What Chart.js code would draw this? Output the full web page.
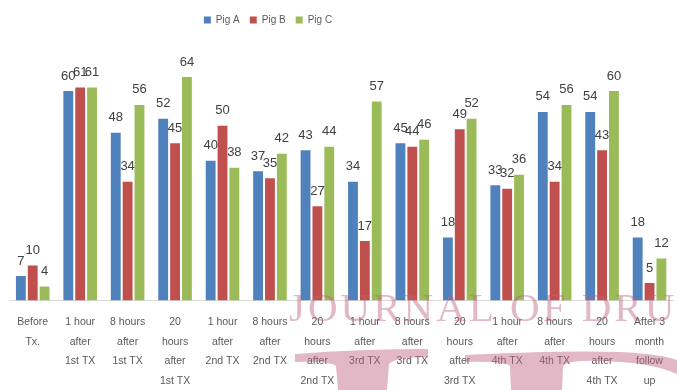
<!DOCTYPE html>
<html>
<head>
<meta charset="utf-8">
<script src="https://cdn.jsdelivr.net/npm/chart.js@4/dist/chart.umd.min.js"></script>
<style>
  html, body { margin: 0; padding: 0; background: #ffffff; }
  #wrap { width: 677px; height: 390px; position: relative; }
</style>
</head>
<body>
<div id="wrap"><canvas id="chart"></canvas></div>
<script>
// Time points of the treatment course (multi-line axis labels)
const categories = [
  ['Before', 'Tx.'],
  ['1 hour', 'after', '1st TX'],
  ['8 hours', 'after', '1st TX'],
  ['20', 'hours', 'after', '1st TX'],
  ['1 hour', 'after', '2nd TX'],
  ['8 hours', 'after', '2nd TX'],
  ['20', 'hours', 'after', '2nd TX'],
  ['1 hour', 'after', '3rd TX'],
  ['8 hours', 'after', '3rd TX'],
  ['20', 'hours', 'after', '3rd TX'],
  ['1 hour', 'after', '4th TX'],
  ['8 hours', 'after', '4th TX'],
  ['20', 'hours', 'after', '4th TX'],
  ['After 3', 'month', 'follow', 'up']
];

// Measured values per animal
const pigA = [7, 60, 48, 52, 40, 37, 43, 34, 45, 18, 33, 54, 54, 18];
const pigB = [10, 61, 34, 45, 50, 35, 27, 17, 44, 49, 32, 34, 43, 5];
const pigC = [4, 61, 56, 64, 38, 42, 44, 57, 46, 52, 36, 56, 60, 12];

const seriesNames = ['Pig A', 'Pig B', 'Pig C'];
const yMax = 70;

const FONT = "'Liberation Sans', Arial, sans-serif";

// Value labels above every bar
const valueLabels = {
  id: 'valueLabels',
  afterDatasetsDraw(chart) {
    const ctx = chart.ctx;
    ctx.save();
    ctx.font = '13px ' + FONT;
    ctx.fillStyle = '#404040';
    ctx.textAlign = 'center';
    ctx.textBaseline = 'middle';
    chart.data.datasets.forEach((ds, i) => {
      const meta = chart.getDatasetMeta(i);
      meta.data.forEach((bar, j) => {
        ctx.fillText(String(ds.data[j]), bar.x, bar.y - 15);
      });
    });
    ctx.restore();
  }
};

// Place the legend slightly left of centre near the top edge
const legendPlacement = {
  id: 'legendPlacement',
  afterLayout(chart) {
    const lg = chart.legend;
    if (!lg) return;
    const dx = 268 - (lg.left + lg.right) / 2;
    lg.left += dx; lg.right += dx;
    const dy = 5 - lg.top;
    lg.top += dy; lg.bottom += dy;
  }
};

// Faint publisher mark over the lower part of the figure
const publisherMark = {
  id: 'publisherMark',
  afterDraw(chart) {
    const ctx = chart.ctx;
    ctx.save();
    ctx.fillStyle = 'rgba(190, 95, 128, 0.45)';
    ctx.font = "41px 'Liberation Serif', 'DejaVu Serif', serif";
    ctx.textBaseline = 'alphabetic';
    ctx.textAlign = 'left';
    if ('letterSpacing' in ctx) ctx.letterSpacing = '3px';
    ctx.fillText('JOURNAL OF DRUG', 289, 321);

    // left "T" shape
    ctx.beginPath();
    ctx.moveTo(295, 354);
    ctx.quadraticCurveTo(360, 349, 428, 349);
    ctx.lineTo(428, 357);
    ctx.quadraticCurveTo(395, 357, 389, 364);
    ctx.lineTo(387, 390);
    ctx.lineTo(338, 390);
    ctx.lineTo(336, 366);
    ctx.quadraticCurveTo(330, 361, 295, 362);
    ctx.closePath();
    ctx.fill();

    // right "T" shape
    ctx.beginPath();
    ctx.moveTo(465, 355);
    ctx.quadraticCurveTo(560, 350, 620, 352);
    ctx.quadraticCurveTo(660, 354, 677, 360);
    ctx.lineTo(677, 374);
    ctx.quadraticCurveTo(650, 362, 600, 361);
    ctx.quadraticCurveTo(568, 360, 563, 366);
    ctx.lineTo(562, 390);
    ctx.lineTo(511, 390);
    ctx.lineTo(510, 366);
    ctx.quadraticCurveTo(505, 361, 465, 362);
    ctx.closePath();
    ctx.fill();
    ctx.restore();
  }
};

new Chart(document.getElementById('chart'), {
  type: 'bar',
  data: {
    labels: categories,
    datasets: [
      { label: seriesNames[0], data: pigA, backgroundColor: '#4F81BD' },
      { label: seriesNames[1], data: pigB, backgroundColor: '#C0504D' },
      { label: seriesNames[2], data: pigC, backgroundColor: '#9BBB59' }
    ]
  },
  options: {
    responsive: true,
    maintainAspectRatio: false,
    animation: false,
    datasets: {
      bar: { categoryPercentage: 0.75, barPercentage: 0.83 }
    },
    layout: { padding: { top: 26, left: 9, right: 0, bottom: -13 } },
    plugins: {
      tooltip: { enabled: false },
      legend: {
        position: 'top',
        labels: {
          boxWidth: 7,
          boxHeight: 7,
          padding: 10,
          color: '#595959',
          font: { family: FONT, size: 10 }
        }
      }
    },
    scales: {
      x: {
        grid: { display: false, drawTicks: false },
        border: { display: true, color: '#d9d9d9', width: 1 },
        ticks: {
          autoSkip: false,
          maxRotation: 0,
          minRotation: 0,
          padding: 12,
          color: '#595959',
          font: { family: FONT, size: 10.5, lineHeight: 1.87 }
        }
      },
      y: {
        display: false,
        min: 0,
        max: yMax
      }
    }
  },
  plugins: [valueLabels, legendPlacement, publisherMark]
});
</script>
</body>
</html>
